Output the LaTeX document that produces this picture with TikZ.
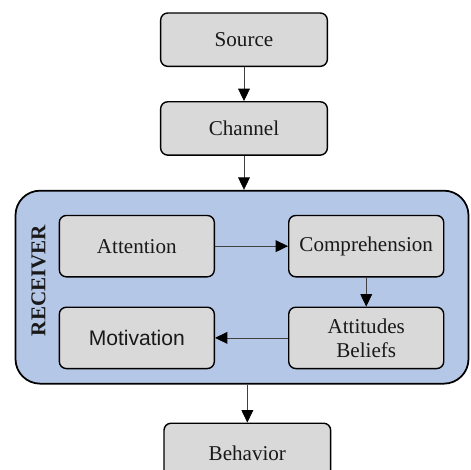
\documentclass[tikz,border=0pt]{standalone}
\usepackage{fontspec}
\setmainfont{Liberation Serif}
\newfontfamily\motivfont{Liberation Sans}
\usetikzlibrary{positioning,arrows.meta}
\definecolor{boxgrey}{HTML}{D9D9D9}
\definecolor{recblue}{HTML}{B4C7E7}

\begin{document}
\begin{tikzpicture}
		[>={Triangle[length=10.5pt,width=10pt,black]},
		every node/.style={font=\fontsize{18}{20.5}\selectfont,text=black!90},
		outer/.style={rectangle,rounded corners=6pt,draw=black,fill=boxgrey,line width=1.2pt,minimum width=5cm,minimum height=1.6cm},
		inner/.style={rectangle,rounded corners=6pt,draw=black,fill=boxgrey,line width=1.2pt,minimum width=4.65cm,minimum height=1.84cm,align=center},
		receiverbox/.style={rectangle,rounded corners=21pt,draw=black,fill=recblue,line width=1.5pt,minimum width=13.59cm,minimum height=5.79cm},
		link/.style={->,black!75,line width=0.6pt}]
		\clip (0,0) rectangle (14.1,-14.1);
		\node [outer] (source) at (7.32,-1.19) {Source};
		\node [outer] (channel) [below=1.02cm of source] {Channel};
		\node [receiverbox] (receiver) [below=1.02cm of channel, xshift=-0.06cm] {};
		\node [font=\fontsize{18}{20}\selectfont\bfseries] (rlabel) [rotate=90] at ([xshift=0.72cm,yshift=0.2cm]receiver.west) {RECEIVER};

		\node [inner] (attention) [below right=0.75cm and 1.32cm of receiver.north west] {Attention};
		\node [inner] (comprehension) [right=2.19cm of attention] {Comprehension};
		\node [inner] (attitudes) [below=0.87cm of comprehension] {Attitudes\\Beliefs};
		\node [inner] (motivation) [left=2.19cm of attitudes] {\motivfont Motivation};

		\node [outer,minimum height=1.8cm] (behavior) [below=1.14cm of receiver, xshift=0.16cm] {Behavior};

		\draw [link] (source) -- (channel);
		\draw [link] (channel.south) -- (channel.south |- receiver.north);
		\draw [link] (attention) -- (comprehension);
		\draw [link] (comprehension) -- (attitudes);
		\draw [link] (attitudes) -- (motivation);
		\draw [link] (behavior.north |- receiver.south) -- (behavior.north);
	\end{tikzpicture}
\end{document}
